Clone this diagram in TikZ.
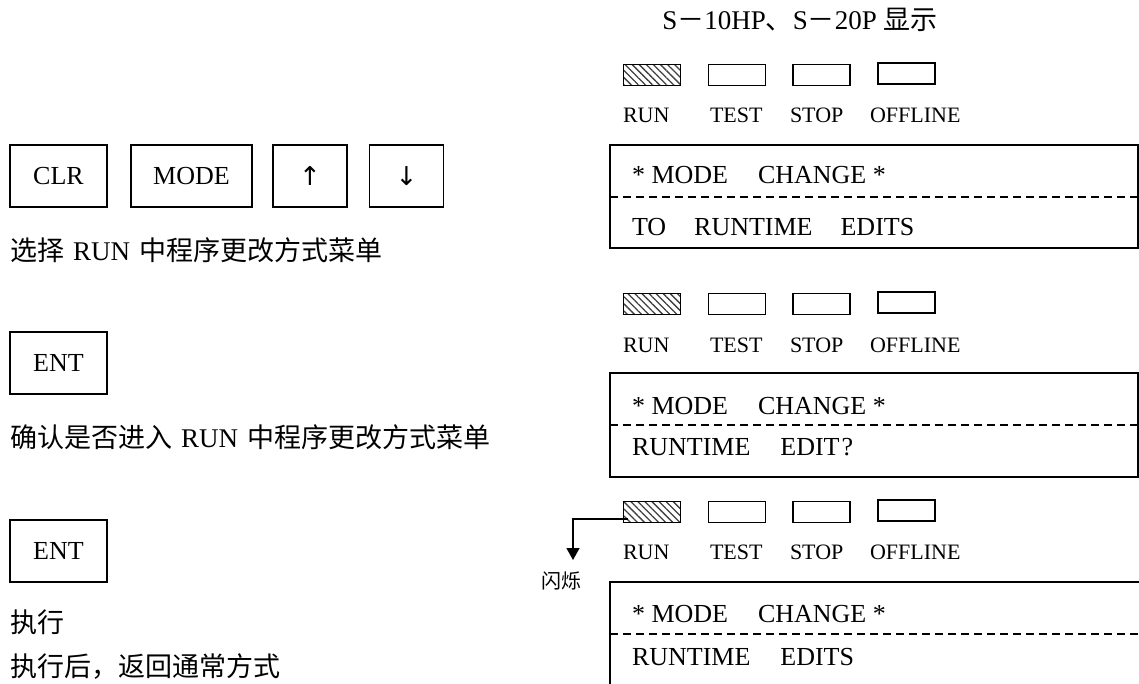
\documentclass[tikz,border=0pt]{standalone}
\usepackage{fontspec}
\setmainfont{Liberation Serif}
\newfontfamily\cjk{Noto Sans CJK SC}
\newfontfamily\sym{DejaVu Sans}
\usetikzlibrary{patterns,patterns.meta,arrows.meta}
\begin{document}
\begin{tikzpicture}[x=1pt,y=-1pt,
  every node/.style={inner sep=0pt,outer sep=0pt},
  lbl/.style={font=\fontsize{22}{24}\selectfont,anchor=base west},
  dtxt/.style={font=\fontsize{26}{28}\selectfont,anchor=base west},
  ctxt/.style={font=\fontsize{27}{30}\selectfont\cjk,anchor=west},
  keybox/.style={draw,line width=1.4pt,minimum height=62pt,font=\fontsize{26}{28}\selectfont},
  led/.style={draw,line width=1.3pt,minimum width=57pt,minimum height=21pt},
  ledon/.style={led,pattern={Lines[angle=-45,distance=5pt,line width=1.3pt]},pattern color=black!75},
  disp/.style={line width=1.6pt},
  sep/.style={line width=1.3pt,dash pattern=on 8pt off 5pt}]
\useasboundingbox (0,0) rectangle (1139,684);
% title
\node[font=\fontsize{27}{30}\selectfont] (title) at (800,20) {S{\cjk －}10HP{\cjk 、}S{\cjk －}20P {\cjk 显示}};
% ---- row 1
\node[keybox,minimum width=97pt] (clr) at (58.5,176) {CLR};
\node[keybox,minimum width=121pt] (mode) at (191.5,176) {MODE};
\node[keybox,minimum width=74pt] (up) at (310,176) {\sym ↑};
\node[keybox,minimum width=74pt] (down) at (406.5,176) {\sym ↓};
\node[ctxt] (t1) at (10,250) {选择\hspace{9pt}{\rmfamily RUN}\hspace{9pt}中程序更改方式菜单};
% ---- row 2
\node[keybox,minimum width=97pt] (ent1) at (58.5,363) {ENT};
\node[ctxt] (t2) at (10,437) {确认是否进入\hspace{9pt}{\rmfamily RUN}\hspace{9pt}中程序更改方式菜单};
% ---- row 3
\node[keybox,minimum width=97pt] (ent2) at (58.5,551) {ENT};
\node[ctxt] (t3) at (10,622) {执行};
\node[ctxt] (t4) at (10,667) {执行后，返回通常方式};
% ---- LED rows
\foreach \r/\y/\ly in {a/75/123, b/304/352, c/512/559}{
  \node[ledon] (run\r) at (652,\y) {};
  \node[led] (test\r) at (737,\y) {};
  \node[led] (stop\r) at (821.5,\y) {};
  \node[led] (off\r) at (906.5,\y-1.5) {};
  \node[lbl] (lrun\r) at (623,\ly) {RUN};
  \node[lbl] (ltest\r) at (710,\ly) {TEST};
  \node[lbl] (lstop\r) at (790,\ly) {STOP};
  \node[lbl] (loff\r) at (870,\ly) {OFFLINE};
}
% ---- displays
\draw[disp] (610,145) rectangle (1138,248);
\draw[sep] (610,197) -- (1138,197);
\node[dtxt] (d1a) at (632,183.6) {* MODE\hspace{30pt}CHANGE *};
\node[dtxt] (d1b) at (632,235.6) {TO\hspace{28pt}RUNTIME\hspace{28pt}EDITS};
\draw[disp] (610,373) rectangle (1138,477);
\draw[sep] (610,425) -- (1138,425);
\node[dtxt] (d2a) at (632,414.6) {* MODE\hspace{30pt}CHANGE *};
\node[dtxt] (d2b) at (632,455.6) {RUNTIME\hspace{30pt}EDIT\kern2pt?};
\draw[disp] (1139,582) -- (610,582) -- (610,690);
\draw[sep] (610,634) -- (1139,634);
\node[dtxt] (d3a) at (632,622.6) {* MODE\hspace{30pt}CHANGE *};
\node[dtxt] (d3b) at (632,665.6) {RUNTIME\hspace{30pt}EDITS};
% ---- blink arrow
\coordinate (start) at ([shift={(4,7)}]runc.west);
\coordinate (bend) at (573,519);
\coordinate (tip) at (573,560);
\draw[line width=1.3pt,-{Triangle[length=12pt,width=13pt]}] (start) -- (bend) -- (tip);
\node[font=\fontsize{20}{22}\selectfont\cjk] (blink) at (561,581) {闪烁};
\end{tikzpicture}
\end{document}
